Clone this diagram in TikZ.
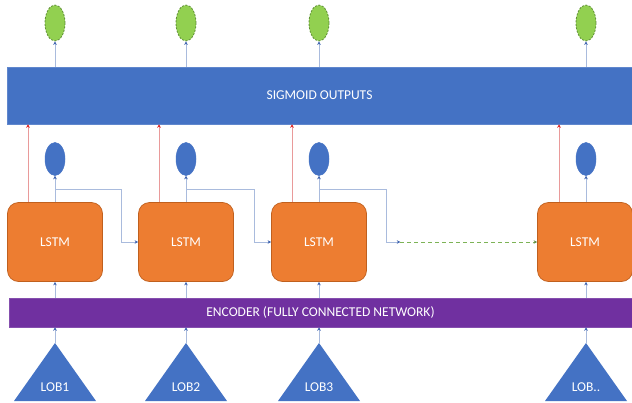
\documentclass[tikz,border=0pt]{standalone}
\usepackage{fontspec}
\setmainfont{Carlito}
\usetikzlibrary{arrows.meta,calc,shapes.geometric}
\definecolor{barblue}{HTML}{4472C4}
\definecolor{lstmorange}{HTML}{ED7D31}
\definecolor{lstmedge}{HTML}{C0601E}
\definecolor{encpurple}{HTML}{7030A0}
\definecolor{outgreen}{HTML}{92D050}
\definecolor{outedge}{HTML}{5E8F34}
\definecolor{linkblue}{HTML}{A9BBDD}
\definecolor{tipblue}{HTML}{3F64B0}
\definecolor{linkred}{HTML}{E99A9A}
\definecolor{tipred}{HTML}{E02828}
\definecolor{dashgreen}{HTML}{7DB356}
\tikzset{
  lbl/.style={text=white, font=\fontsize{13.5}{15}\selectfont},
  sigbar/.style={fill=barblue, draw=barblue!85!white, line width=0.5pt, inner sep=0pt},
  encbar/.style={fill=encpurple, draw=encpurple!85!white, line width=0.5pt, inner sep=0pt},
  lstmbox/.style={lbl, fill=lstmorange, draw=lstmedge, line width=0.7pt,
    rounded corners=11pt, minimum width=95pt, minimum height=79pt, inner sep=0pt},
  outnode/.style={ellipse, fill=outgreen, draw=outedge, line width=0.8pt,
    dash pattern=on 2pt off 1.5pt, minimum width=20pt, minimum height=36pt, inner sep=0pt},
  hidnode/.style={ellipse, fill=barblue, draw=barblue, line width=0.5pt,
    minimum width=20pt, minimum height=33pt, inner sep=0pt},
  conn/.style={draw=linkblue, line width=0.8pt, -{Stealth[length=3.5pt,width=3.5pt,color=tipblue]}},
  redconn/.style={draw=linkred, line width=0.8pt, -{Stealth[length=3.5pt,width=3.5pt,color=tipred]}},
  skipconn/.style={draw=dashgreen, line width=0.9pt, dash pattern=on 4pt off 3pt,
    -{Stealth[length=3.5pt,width=3.5pt,color=dashgreen!80!black]}},
  trifill/.style={fill=barblue},
}
\begin{document}
\begin{tikzpicture}[x=1pt, y=-1pt]
  % canvas
  \fill[white] (0,0) rectangle (632,402);
  \path[use as bounding box] (0,0) rectangle (632,402);

  % horizontal bars
  \node[sigbar, lbl, minimum width=625pt, minimum height=57pt] (sig) at (319.5,95.5) {SIGMOID OUTPUTS};
  \node[encbar, lbl, minimum width=623pt, minimum height=29pt] (enc) at (320.5,312.5) {ENCODER (FULLY CONNECTED NETWORK)};

  % LSTM cells
  \node[lstmbox] (L1) at (55,242) {LSTM};
  \node[lstmbox] (L2) at (186,242) {LSTM};
  \node[lstmbox] (L3) at (319,242) {LSTM};
  \node[lstmbox] (L4) at (585,242) {LSTM};

  % output (green) and hidden (blue) ellipses
  \foreach \i/\x in {1/55,2/186,3/319,4/586}{
    \node[outnode] (g\i) at (\x,23) {};
    \node[hidnode] (b\i) at (\x,159) {};
  }

  % input triangles
  \foreach \i/\x/\t in {1/55/LOB1,2/186/LOB2,3/319/LOB3,4/586/LOB..}{
    \coordinate (t\i) at (\x,343);
    \fill[trifill] (t\i) -- ++(41,58) -- ++(-82,0) -- cycle;
    \node[lbl] (l\i) at (\x,387) {\t};
  }

  % vertical connections per column
  \foreach \i in {1,2,3,4}{
    \draw[conn] (g\i |- sig.north) -- (g\i.south);
    \draw[conn] (L\i.north -| b\i) -- (b\i.south);
    \draw[conn] (enc.north -| t\i) -- (L\i.south -| t\i);
    \draw[conn] (t\i) -- (t\i |- enc.south);
    \coordinate (r\i) at ([xshift=-27pt]L\i.north -| b\i);
    \draw[redconn] (r\i) -- (r\i |- sig.south);
  }

  % recurrent links between neighbouring cells
  \coordinate (h1) at ($(L1.north -| b1)!0.5!(b1.south)$);
  \coordinate (h2) at ($(L2.north -| b2)!0.5!(b2.south)$);
  \coordinate (h3) at ($(L3.north -| b3)!0.5!(b3.south)$);
  \draw[conn] (h1) -| ([xshift=-17pt]L2.west) -- (L2.west);
  \draw[conn] (h2) -| ([xshift=-17pt]L3.west) -- (L3.west);
  \coordinate (d0) at ([xshift=19.5pt]L3.east);
  \coordinate (d1) at ([xshift=33.5pt]L3.east);
  \draw[conn] (h3) -| (d0) -- (d1);
  \draw[skipconn] (d1) -- (L4.west);
\end{tikzpicture}
\end{document}
